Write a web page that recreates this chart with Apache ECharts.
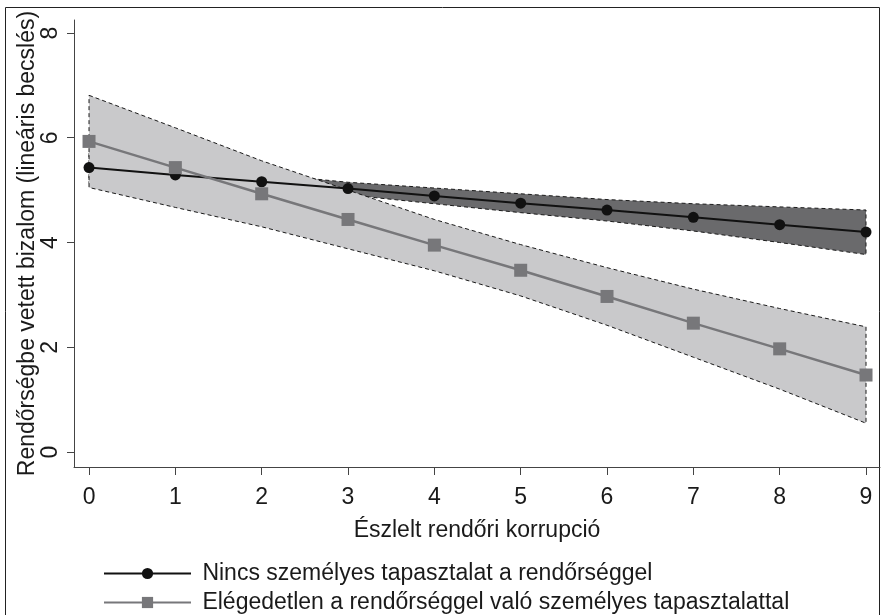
<!DOCTYPE html>
<html>
<head>
<meta charset="utf-8">
<script src="https://cdn.jsdelivr.net/npm/echarts@6/dist/echarts.min.js"></script>
<style>
  html, body { margin: 0; padding: 0; background: #fff; }
  #chart { width: 883px; height: 615px; }
</style>
</head>
<body>
<div id="chart"></div>
<script>
    // Észlelt rendőri korrupció (0..9)
    var xValues = [0, 1, 2, 3, 4, 5, 6, 7, 8, 9];
    var xTicks = [0, 1, 2, 3, 4, 5, 6, 7, 8, 9];
    var yTicks = [0, 2, 4, 6, 8];

    var nameNincs = 'Nincs személyes tapasztalat a rendőrséggel';
    var nameElegedetlen = 'Elégedetlen a rendőrséggel való személyes tapasztalattal';

    // becslés + konfidencia sáv (leolvasott értékek)
    var nincsPred  = [5.43, 5.29, 5.16, 5.03, 4.89, 4.75, 4.62, 4.48, 4.34, 4.20];
    var nincsUpper = [5.73, 5.51, 5.31, 5.15, 5.04, 4.93, 4.82, 4.74, 4.68, 4.62];
    var nincsLower = [5.13, 5.07, 5.01, 4.91, 4.74, 4.57, 4.41, 4.22, 4.00, 3.77];

    var elegPred  = [5.93, 5.43, 4.93, 4.44, 3.95, 3.47, 2.97, 2.46, 1.97, 1.47];
    var elegUpper = [6.81, 6.19, 5.56, 5.00, 4.44, 3.96, 3.52, 3.11, 2.74, 2.39];
    var elegLower = [5.05, 4.67, 4.30, 3.88, 3.46, 2.98, 2.42, 1.81, 1.20, 0.55];

    var font = '"Liberation Sans", Arial, sans-serif';
    var fs = 23;

    function pairs(ys) {
        return xValues.map(function (x, i) { return [x, ys[i]]; });
    }

    // sáv poligon a tengelyek skáláján keresztül
    function band(lower, upper, fill) {
        return function (params, api) {
            var pts = [];
            xValues.forEach(function (x, i) { pts.push(api.coord([x, upper[i]])); });
            for (var i = xValues.length - 1; i >= 0; i--) {
                pts.push(api.coord([xValues[i], lower[i]]));
            }
            return {
                type: 'polygon',
                shape: { points: pts },
                style: { fill: fill, stroke: '#1a1a1a', lineWidth: 1, lineDash: [4, 3] }
            };
        };
    }

    function legendRow(name, top) {
        return {
            data: [name],
            left: 98,
            top: top,
            itemWidth: 87,
            itemHeight: 14,
            formatter: function (n) { return ' ' + n; },
            textStyle: { fontFamily: font, fontSize: fs, color: '#1a1a1a' }
        };
    }

    var myChart = echarts.init(document.getElementById('chart'));
    myChart.setOption({
        animation: false,
        backgroundColor: '#fff',
        textStyle: { fontFamily: font },
        graphic: [{
            type: 'rect',
            shape: { x: 5.5, y: 7.5, width: 874, height: 700 },
            style: { fill: 'none', stroke: '#222', lineWidth: 1 },
            silent: true
        }],
        grid: { left: 74, right: 3, top: 20, bottom: 148 },
        legend: [
            legendRow(nameNincs, 557),
            legendRow(nameElegedetlen, 586)
        ],
        xAxis: {
            type: 'value',
            min: -0.174,
            max: 9.162,
            name: 'Észlelt rendőri korrupció',
            nameLocation: 'middle',
            nameGap: 52,
            nameMoveOverlap: false,
            nameTextStyle: { fontFamily: font, fontSize: fs, color: '#1a1a1a' },
            axisLine: { show: true, onZero: false, lineStyle: { color: '#444', width: 1 } },
            axisTick: { show: true, length: 8, customValues: xTicks, lineStyle: { color: '#444' } },
            axisLabel: { customValues: xTicks, margin: 19, fontSize: fs, color: '#1a1a1a', fontFamily: font },
            splitLine: { show: false }
        },
        yAxis: {
            type: 'value',
            min: -0.286,
            max: 8.248,
            name: 'Rendőrségbe vetett bizalom (lineáris becslés)',
            nameLocation: 'middle',
            nameGap: 35,
            nameMoveOverlap: false,
            nameTextStyle: { fontFamily: font, fontSize: fs, color: '#1a1a1a' },
            axisLine: { show: true, onZero: false, lineStyle: { color: '#444', width: 1 } },
            axisTick: { show: true, length: 7, customValues: yTicks, lineStyle: { color: '#444' } },
            axisLabel: { customValues: yTicks, rotate: 90, margin: 12, fontSize: fs, color: '#1a1a1a', fontFamily: font },
            splitLine: { show: false }
        },
        series: [
            {
                type: 'custom',
                name: 'nincs_ci',
                renderItem: band(nincsLower, nincsUpper, '#6a6a6c'),
                data: [[0, 0]],
                silent: true,
                z: 1
            },
            {
                type: 'custom',
                name: 'eleg_ci',
                renderItem: band(elegLower, elegUpper, '#c9c9cb'),
                data: [[0, 0]],
                silent: true,
                z: 2
            },
            {
                type: 'line',
                name: nameNincs,
                data: pairs(nincsPred),
                symbol: 'circle',
                symbolSize: 11,
                itemStyle: { color: '#111' },
                lineStyle: { color: '#111', width: 2 },
                z: 3
            },
            {
                type: 'line',
                name: nameElegedetlen,
                data: pairs(elegPred),
                symbol: 'rect',
                symbolSize: 13,
                itemStyle: { color: '#77777a' },
                lineStyle: { color: '#77777a', width: 2.5 },
                z: 4
            }
        ]
    });
</script>
</body>
</html>
